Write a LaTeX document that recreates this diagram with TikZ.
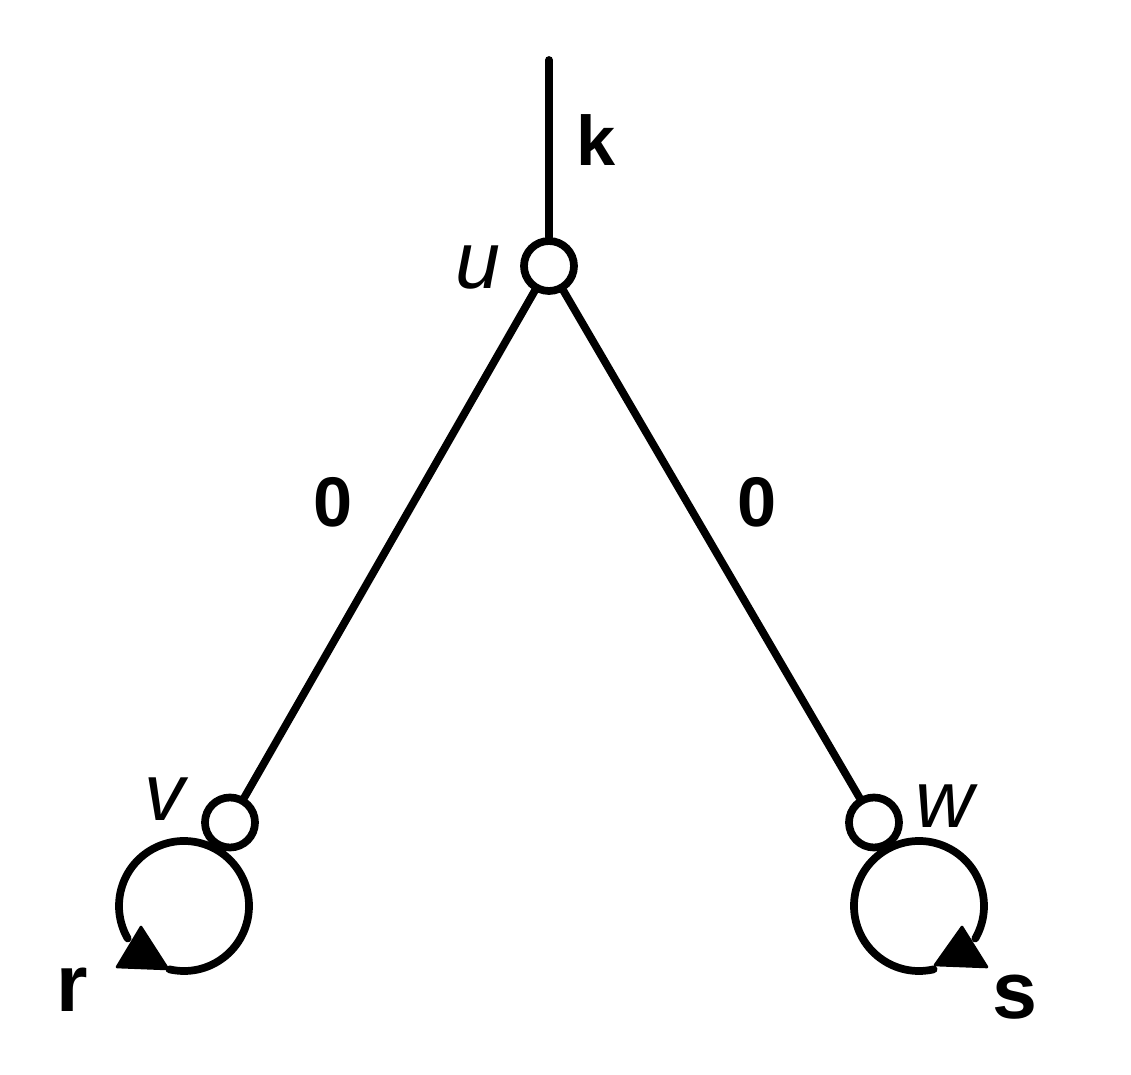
\documentclass[tikz,border=0pt]{standalone}
\usepackage{fontspec}
\setmainfont{Liberation Sans}
\usetikzlibrary{positioning}

\begin{document}
\begin{tikzpicture}[line width=4.4pt, line cap=round,
    vertex/.style={circle, draw, fill=white, inner sep=0pt, minimum size=1.0cm},
    lab/.style={font=\fontsize{40}{48}\selectfont\bfseries},
    var/.style={font=\fontsize{46}{54}\selectfont\itshape},
    tip/.style={fill, line width=1.5pt, line join=round}]
      \useasboundingbox (0,0) rectangle (22.62,21.5);

      % loop centres
      \coordinate (lv) at (3.68,3.38);
      \coordinate (lw) at (18.38,3.38);
      \coordinate (ktop) at (10.98,20.3);

      \draw (lv) ++(257:1.3) arc[start angle=257, end angle=570, radius=1.3cm];
      \draw (lw) ++(283:1.3) arc[start angle=283, end angle=-30, radius=1.3cm];
      \draw[tip] (2.34,2.16) -- (2.82,2.96) -- (3.36,2.12) -- cycle;
      \draw[tip] (18.70,2.20) -- (19.24,2.96) -- (19.74,2.16) -- cycle;

      \node[vertex] (u) at (10.98,16.18) {};
      \node[vertex] (v) at (4.60,5.05) {};
      \node[vertex] (w) at (17.48,5.05) {};

      \draw (ktop) -- (u);
      \draw (u) -- (v);
      \draw (u) -- (w);

      \node[lab] (k) at (11.92,18.7) {k};
      \node[lab] (zl) at (6.66,11.46) {0};
      \node[lab] (zr) at (15.14,11.46) {0};
      \node[var] (lu) at (9.56,16.14) {u};
      \node[var] (lvv) at (3.30,5.52) {v};
      \node[var] (lww) at (18.90,5.38) {w};
      \node[lab, font=\fontsize{46}{54}\selectfont\bfseries] (r) at (1.44,1.70) {r};
      \node[lab, font=\fontsize{46}{54}\selectfont\bfseries] (s) at (20.30,1.56) {s};
    \end{tikzpicture}
\end{document}
